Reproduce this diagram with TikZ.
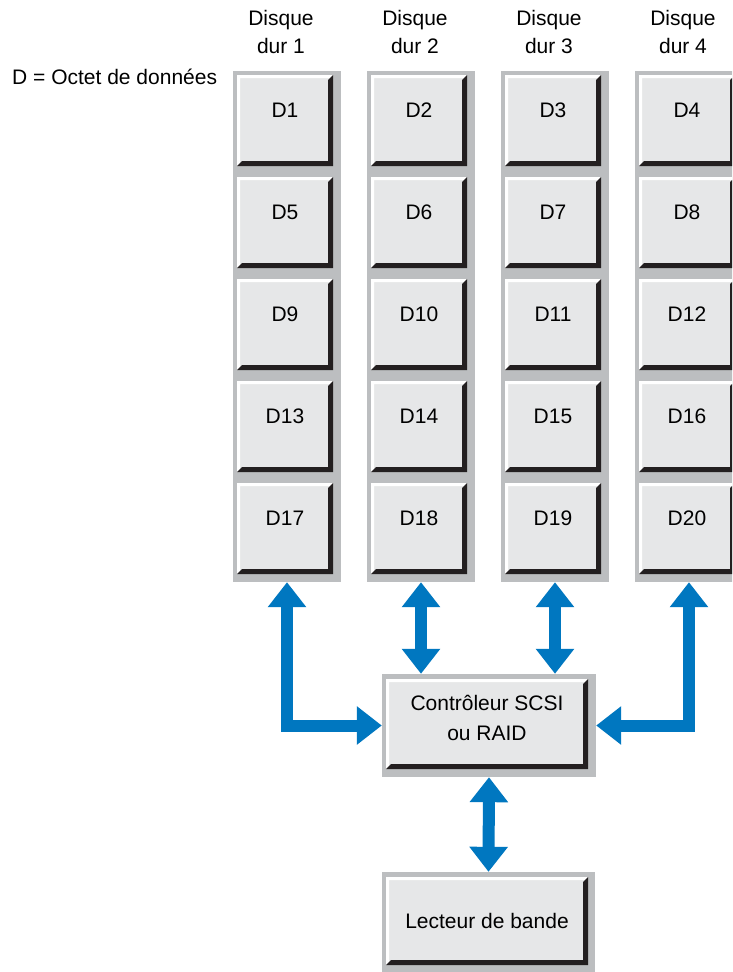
\documentclass[tikz,border=0pt]{standalone}
\usepackage{fontspec}
\setmainfont{Liberation Sans}
\usetikzlibrary{arrows.meta}
\definecolor{face}{HTML}{E6E7E8}
\definecolor{panelgray}{HTML}{BCBEC0}
\definecolor{shadowc}{HTML}{231F20}
\definecolor{arrowblue}{HTML}{0077C0}
\tikzset{
  panel/.style={fill=panelgray, draw=none, inner sep=0pt},
  bevbox/.style={fill=face, draw=none, inner sep=0pt, align=center,
    path picture={
      \fill[white] (path picture bounding box.south west) -- (path picture bounding box.north west)
        -- (path picture bounding box.north east) -- ([shift={(-3pt,-3pt)}]path picture bounding box.north east)
        -- ([shift={(3pt,-3pt)}]path picture bounding box.north west) -- ([shift={(3pt,3pt)}]path picture bounding box.south west) -- cycle;
      \fill[shadowc] (path picture bounding box.south west) -- (path picture bounding box.south east)
        -- (path picture bounding box.north east) -- ([shift={(-5pt,-5pt)}]path picture bounding box.north east)
        -- ([shift={(-5pt,5pt)}]path picture bounding box.south east) -- ([shift={(5pt,5pt)}]path picture bounding box.south west) -- cycle;
    }},
  diskbox/.style={bevbox, minimum width=96pt, minimum height=91pt, text height=15pt, text depth=22pt},
  lbl/.style={align=center, inner sep=0pt},
  barrow/.style={draw=arrowblue, line width=12pt, line join=miter,
    {Triangle[width=37pt,length=25pt]}-{Triangle[width=37pt,length=25pt]}},
}
\begin{document}
\begin{tikzpicture}[x=1pt,y=-1pt,font=\fontsize{21pt}{28pt}\selectfont]
\useasboundingbox (0,0) rectangle (732,972);
\clip (0,0) rectangle (732,972);
\fill[white] (0,0) rectangle (732,972);

\node[lbl, anchor=base west] (legend) at (12,84) {D = Octet de données};

\foreach \c in {1,...,4} {
  \pgfmathsetmacro\L{233+134*(\c-1)}
  \node[panel, minimum width=108pt, minimum height=511pt] (p\c) at (\L+54,326.5) {};
  \node[lbl] (h\c) at (\L+48,31.5) {Disque\\dur \c};
  \foreach \r in {1,...,5} {
    \pgfmathtruncatemacro\n{(\r-1)*4+\c}
    \node[diskbox] (b\n) at (\L+52,{75+102*(\r-1)+45.5}) {D\n};
  }
}

\node[panel, minimum width=214pt, minimum height=103pt] (cp) at (489,725.5) {};
\node[bevbox, minimum width=202pt, minimum height=90pt,
  label={[lbl, yshift=6pt]center:{Contrôleur SCSI\\[2pt]ou RAID}}] (ctrl) at (487,724) {};
\node[panel, minimum width=213pt, minimum height=103pt] (tp) at (488.5,923.5) {};
\node[bevbox, minimum width=202pt, minimum height=88pt] (tape) at (487,921) {Lecteur de bande};

\draw[barrow] (p1.south) |- (cp.west);
\draw[barrow] (p2.south) -- (p2.south |- cp.north);
\draw[barrow] (p3.south) -- (p3.south |- cp.north);
\draw[barrow] (p4.south) |- (cp.east);
\draw[barrow] (cp.south) -- (tp.north);
\end{tikzpicture}
\end{document}
